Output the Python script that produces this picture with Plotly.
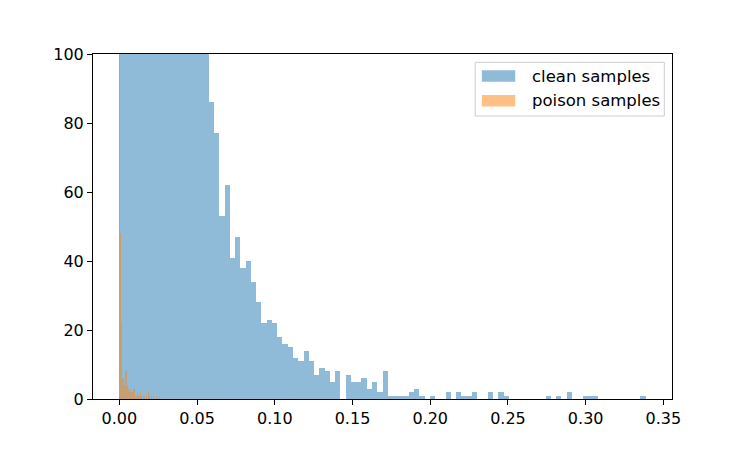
import numpy as np
import plotly.graph_objects as go

# clean samples: 100 bins over [0, 0.3386]; first 17 bins are clipped by the y range
clean_max = 0.3386
clean_counts = [620, 870, 980, 950, 900, 830, 760, 680, 600, 520, 450, 380, 320, 260, 210, 160, 120,
                86, 77, 53, 62, 41, 47, 38, 40, 34, 28, 22, 23, 22,
                18, 16, 15, 12, 11, 14, 11, 7, 9, 8,
                5, 8, 0, 7, 5, 5, 6, 3, 5, 2,
                8, 1, 1, 1, 1, 2, 3, 1, 0, 1,
                0, 0, 2, 0, 2, 1, 1, 2, 0, 0,
                2, 0, 2, 1, 0, 0, 0, 0, 0, 0,
                0, 1, 0, 1, 0, 2, 0, 0, 1, 1,
                1, 0, 0, 0, 0, 0, 0, 0, 0, 1]

# poison samples: very narrow bins over [0, 0.026] (about one pixel each)
poison_max = 0.026
poison_counts = [130, 48, 22, 6, 6, 4, 8, 8, 4, 3,
                 2, 3, 2, 2, 3, 3, 1, 2, 1, 1,
                 2, 1, 0, 1, 1, 0, 1, 0, 2, 1,
                 0, 1, 0, 1, 0, 0, 1, 0, 0, 1]

series_names = ['clean samples', 'poison samples']
colors = ['rgba(31,119,180,0.5)', 'rgba(255,127,14,0.5)']

FONT = 'DejaVu Sans'
FS = 16


def bins(vmax, counts):
    edges = np.linspace(0, vmax, len(counts) + 1)
    return (edges[:-1] + edges[1:]) / 2, edges[1] - edges[0]


fig = go.Figure()
for name, vmax, counts, col in zip(series_names, [clean_max, poison_max],
                                   [clean_counts, poison_counts], colors):
    centers, w = bins(vmax, counts)
    fig.add_trace(go.Bar(x=centers, y=counts, width=w, name=name, cliponaxis=True,
                         marker=dict(color=col, line_width=0), showlegend=False))

# matplotlib style legend box with wide patches
shapes = [dict(type='rect', xref='paper', yref='paper', x0=0.6601, x1=0.9867, y0=0.8203, y1=0.9759,
               line=dict(color='#cccccc', width=1), fillcolor='rgba(255,255,255,0.8)', layer='above')]
annotations = []
for i, (name, col) in enumerate(zip(series_names, colors)):
    yc = 0.9362 - i * 0.0716
    shapes.append(dict(type='rect', xref='paper', yref='paper', x0=0.6717, x1=0.7292,
                       y0=yc - 0.0168, y1=yc + 0.0168, line_width=0, fillcolor=col, layer='above'))
    annotations.append(dict(xref='paper', yref='paper', x=0.7539, y=yc, xanchor='left', yanchor='middle',
                            text=name, showarrow=False, font=dict(family=FONT, size=16.5, color='black')))

axis_common = dict(showgrid=False, zeroline=False, showline=True, mirror=True, linecolor='black',
                   linewidth=1, ticks='outside', ticklen=5, tickwidth=1, tickcolor='black',
                   tickfont=dict(family=FONT, size=FS, color='black'))

# page body adds an 8px offset, so margins are shifted to compensate
fig.update_layout(
    width=747, height=449,
    margin=dict(l=85, r=83, t=46, b=58),
    barmode='overlay', bargap=0,
    plot_bgcolor='white', paper_bgcolor='white',
    xaxis=dict(range=[-0.01693, 0.35553], tickvals=[0, 0.05, 0.1, 0.15, 0.2, 0.25, 0.3, 0.35],
               tickformat='.2f', **axis_common),
    yaxis=dict(range=[0, 100], tickvals=[0, 20, 40, 60, 80, 100], **axis_common),
    shapes=shapes, annotations=annotations,
)

fig.write_html("out.html")
